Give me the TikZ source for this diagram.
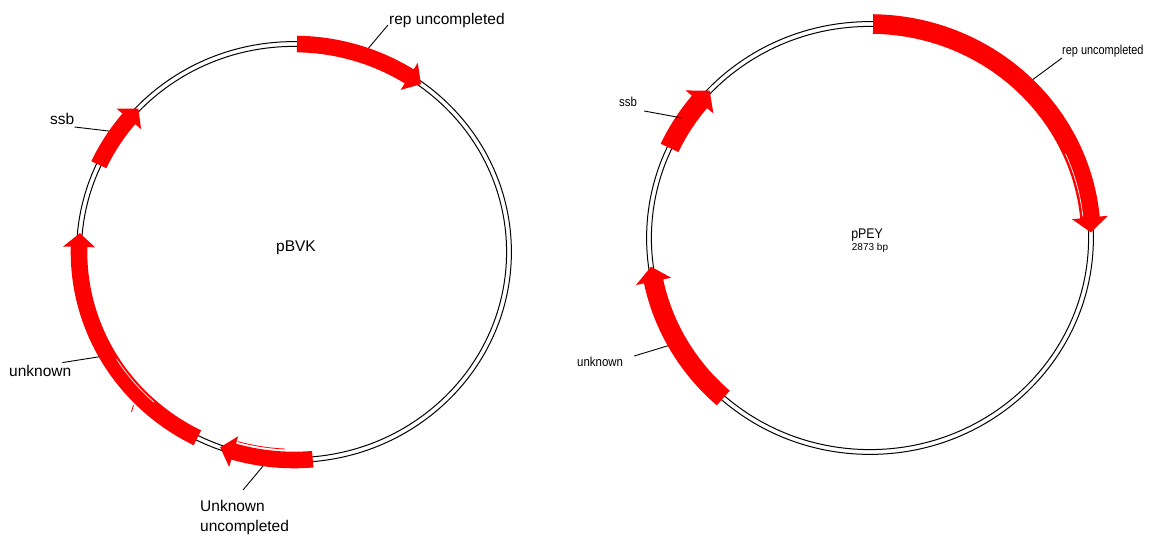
\documentclass[tikz,border=0pt]{standalone}
\usepackage{fontspec}
\setmainfont{Liberation Sans}
\newfontfamily\narrowfont[FakeStretch=0.88]{Liberation Sans}
\newfontfamily\narrowerfont[FakeStretch=0.84]{Liberation Sans}
\tikzset{
  ringline/.style={line width=1pt, black},
  featfill/.style={fill=red},
  leader/.style={line width=0.9pt, black},
  lbl/.style={inner sep=0pt, font=\fontsize{15.5}{20}\selectfont},
  lbls/.style={inner sep=0pt, font=\narrowfont\fontsize{13}{15}\selectfont},
}
\newcommand\setring[5]{\def\Prx{#1}\def\Pry{#2}\def\Pbw{#3}\def\Phw{#4}\def\Phd{#5}}
\newcommand\ring{%
  \pgfmathsetmacro\PmA{\Prx+2.4}\pgfmathsetmacro\PmB{\Pry+2.4}%
  \draw[ringline] (0,0) ellipse[x radius=\PmA pt, y radius=\PmB pt];
  \pgfmathsetmacro\PmA{\Prx-2.4}\pgfmathsetmacro\PmB{\Pry-2.4}%
  \draw[ringline] (0,0) ellipse[x radius=\PmA pt, y radius=\PmB pt];}
\newcommand\featarrow[2]{%
  \pgfmathsetmacro\Prxo{\Prx+\Pbw}\pgfmathsetmacro\Pryo{\Pry+\Pbw}%
  \pgfmathsetmacro\Prxi{\Prx-\Pbw}\pgfmathsetmacro\Pryi{\Pry-\Pbw}%
  \pgfmathsetmacro\Prxh{\Prx+\Phw}\pgfmathsetmacro\Pryh{\Pry+\Phw}%
  \pgfmathsetmacro\Prxj{\Prx-\Phw}\pgfmathsetmacro\Pryj{\Pry-\Phw}%
  \pgfmathsetmacro\Phb{#2+\Phd}%
  \fill[featfill] (#1:\Prxo pt and \Pryo pt)
    arc[start angle=#1, end angle=\Phb, x radius=\Prxo pt, y radius=\Pryo pt]
    -- (\Phb:\Prxh pt and \Pryh pt) -- (#2:\Prx pt and \Pry pt)
    -- (\Phb:\Prxj pt and \Pryj pt) -- (\Phb:\Prxi pt and \Pryi pt)
    arc[start angle=\Phb, end angle=#1, x radius=\Prxi pt, y radius=\Pryi pt] -- cycle;}
\newcommand\thinarc[4]{%
  \pgfmathsetmacro\PmA{\Prx+#3}\pgfmathsetmacro\PmB{\Pry+#3}%
  \draw[#4] (#1:\PmA pt and \PmB pt) arc[start angle=#1, end angle=#2, x radius=\PmA pt, y radius=\PmB pt];}
\newcommand\ringpt[3]{%
  \pgfmathsetmacro\PmA{\Prx+#3}\pgfmathsetmacro\PmB{\Pry+#3}%
  \coordinate (#1) at (#2:\PmA pt and \PmB pt);}
\begin{document}
\begin{tikzpicture}[x=1pt, y=1pt]
\path[use as bounding box, fill=white] (0,0) rectangle (1152,536);

% ---------- left plasmid pBVK ----------
\begin{scope}[shift={(294,284)}]
  \setring{215}{208}{8.3}{16}{3.8}
  \ring
  \featarrow{89.2}{53.8}
  \featarrow{155.2}{136.4}
  \featarrow{243.3}{174.8}
  \featarrow{275}{249.9}
  \thinarc{254}{267.5}{-10.8}{red, line width=0.8pt}
  \thinarc{212}{228}{-5.8}{white, line width=0.7pt}
  \ringpt{lrepA}{70.5}{8.3}
  \ringpt{lssbA}{146}{8.3}
  \ringpt{lunkA}{209}{8.3}
  \ringpt{luuA}{262}{8.3}
\end{scope}
\draw[red, line width=0.8pt] (133.5,131) -- (131.5,124);

\node[lbl, anchor=base west] (repL) at (389,511) {rep uncompleted};
\node[lbl, anchor=base west] (ssbL) at (50,411) {ssb};
\node[lbl, anchor=base west] (unkL) at (9,159) {unknown};
\node[lbl, anchor=north west, align=left] (uuL) at (200,36) {Unknown\\uncompleted};
\node[lbl, anchor=base] (nameL) at (296,284) {pBVK};

\draw[leader] (lrepA) -- ([xshift=-1pt]repL.base west);
\draw[leader] (lssbA) -- ([yshift=-2pt]ssbL.base east);
\draw[leader] (lunkA) -- ([shift={(-9pt,3pt)}]unkL.north east);
\draw[leader] (luuA) -- ([shift={(43pt,10pt)}]uuL.north west);

% ---------- right plasmid pPEY ----------
\begin{scope}[shift={(870,298)}]
  \setring{221}{214}{9.8}{18}{4}
  \ring
  \featarrow{89.2}{1.5}
  \featarrow{155.1}{136.5}
  \featarrow{228.4}{187.7}
  \thinarc{6}{24}{-7}{white, line width=0.7pt}
  \ringpt{rrepA}{45.1}{9.8}
  \ringpt{rssbA}{146.6}{4}
  \ringpt{runkA}{208.8}{9.8}
\end{scope}

\node[lbls, font=\narrowerfont\fontsize{13}{15}\selectfont, anchor=base west] (repR) at (1062,481) {rep uncompleted};
\node[lbls, anchor=base west] (ssbR) at (619,429) {ssb};
\node[lbls, anchor=base west] (unkR) at (577,169) {unknown};
\node[inner sep=0pt, font=\narrowfont\fontsize{14}{16}\selectfont, anchor=base] (nameR) at (867,297.7) {pPEY};
\node[inner sep=0pt, font=\fontsize{10}{12}\selectfont, anchor=base] (sizeR) at (870,285) {2873 bp};

\draw[leader] (rrepA) -- ([yshift=-3pt]repR.base west);
\draw[leader] (rssbA) -- ([shift={(7pt,-4pt)}]ssbR.base east);
\draw[leader] (runkA) -- ([shift={(11pt,11pt)}]unkR.base east);
\end{tikzpicture}
\end{document}
